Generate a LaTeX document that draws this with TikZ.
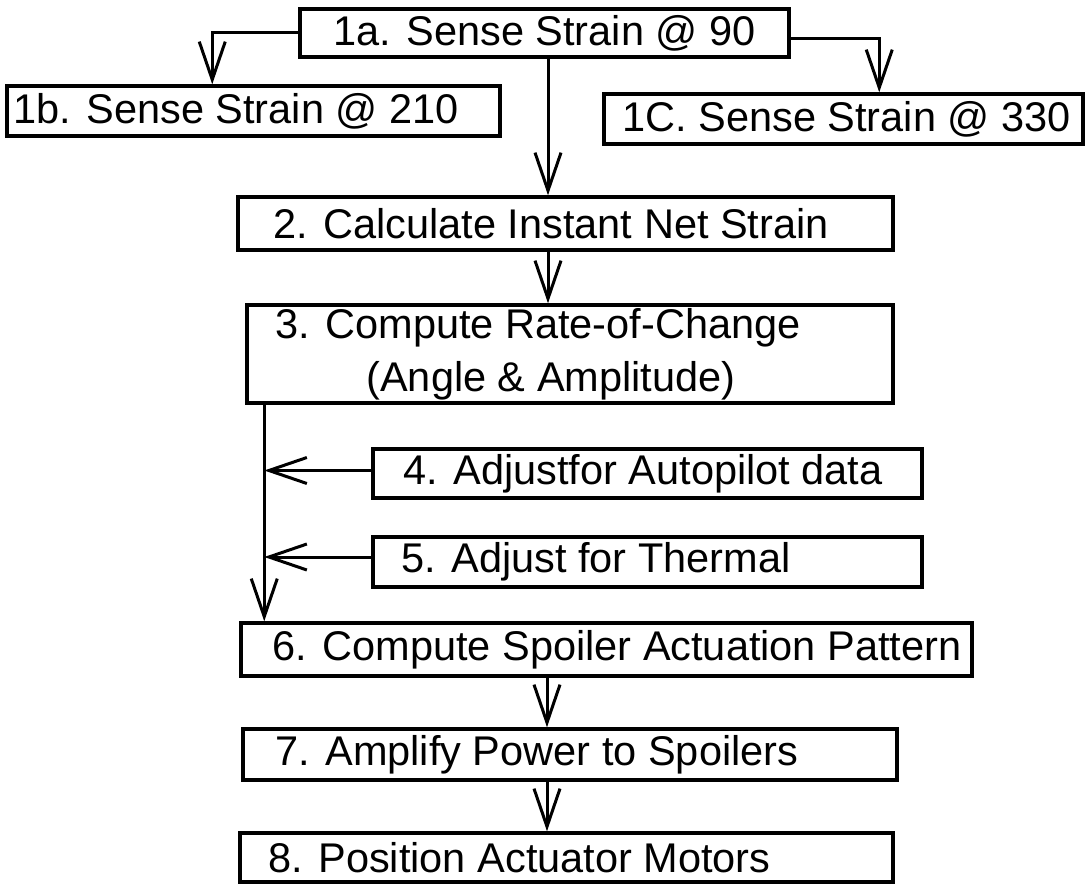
\documentclass[tikz,border=0pt]{standalone}
\usepackage{fontspec}
\setmainfont{Liberation Sans}
\usetikzlibrary{arrows.meta}
\begin{document}
\begin{tikzpicture}[x=1pt,y=-1pt,
  box/.style={draw, line width=3.5pt, minimum width=#1, inner sep=0pt, anchor=center},
  txt/.style={font=\fontsize{41.5}{53}\selectfont, inner sep=0pt, anchor=west, align=left},
  arr/.style={line width=3pt, -{Straight Barb[length=38pt,width=26pt]}}]
\useasboundingbox (0,0) rectangle (1086,886);
\fill[white] (0,0) rectangle (1086,886);

% boxes
\node[box=489pt, minimum height=48pt] (a1) at (544.5,33) {};
\node[box=493pt, minimum height=50pt] (b1) at (253.5,111) {};
\node[box=479pt, minimum height=50pt] (c1) at (843.5,119) {};
\node[box=655pt, minimum height=53pt] (n2) at (565.5,223.5) {};
\node[box=646pt, minimum height=98pt] (n3) at (570,354) {};
\node[box=549pt, minimum height=49pt] (n4) at (647.5,473.5) {};
\node[box=549pt, minimum height=50pt] (n5) at (647.5,562) {};
\node[box=731pt, minimum height=53pt] (n6) at (606.5,649.5) {};
\node[box=654pt, minimum height=51pt] (n7) at (570,754.5) {};
\node[box=653pt, minimum height=49pt] (n8) at (566.5,857.5) {};

% texts
\node[txt, anchor=center] (ta1) at (a1.center) {1a. Sense Strain @ 90};
\node[txt] (tb1) at ([xshift=8pt]b1.west) {1b. Sense Strain @ 210};
\node[txt] (tc1) at ([xshift=20pt]c1.west) {1C. Sense Strain @ 330};
\node[txt] (t2) at ([xshift=37pt]n2.west) {2. Calculate Instant Net Strain};
\node[txt] (t3) at ([xshift=30pt]n3.west) {3. Compute Rate-of-Change\\\hspace*{91pt}(Angle \& Amplitude)};
\node[txt] (t4) at ([xshift=32pt]n4.west) {4. Adjustfor Autopilot data};
\node[txt] (t5) at ([xshift=30pt]n5.west) {5. Adjust for Thermal};
\node[txt] (t6) at ([xshift=33pt]n6.west) {6. Compute Spoiler Actuation Pattern};
\node[txt] (t7) at ([xshift=34pt]n7.west) {7. Amplify Power to Spoilers};
\node[txt] (t8) at ([xshift=30pt]n8.west) {8. Position Actuator Motors};

% connectors
\draw[arr] ([yshift=1pt]a1.west) -| ([xshift=207pt]b1.north west);
\draw[arr] ([yshift=-5pt]a1.east) -| ([xshift=277pt]c1.north west);
\draw[arr] ([xshift=3.5pt]a1.south) -- ([xshift=3.5pt]a1.south |- n2.north);
\draw[arr] ([xshift=-17.5pt]n2.south) -- ([xshift=-17.5pt]n2.south |- n3.north);
\coordinate (bus) at ([xshift=19pt]n3.south west);
\draw[arr] (bus) -- (bus |- n6.north);
\draw[arr] ([yshift=3pt]n4.west) -- ([yshift=3pt]n4.west -| bus);
\draw[arr] ([yshift=5pt]n5.west) -- ([yshift=5pt]n5.west -| bus);
\draw[arr] ([xshift=-59.5pt]n6.south) -- ([xshift=-59.5pt]n6.south |- n7.north);
\draw[arr] ([xshift=-23pt]n7.south) -- ([xshift=-23pt]n7.south |- n8.north);
\end{tikzpicture}
\end{document}
